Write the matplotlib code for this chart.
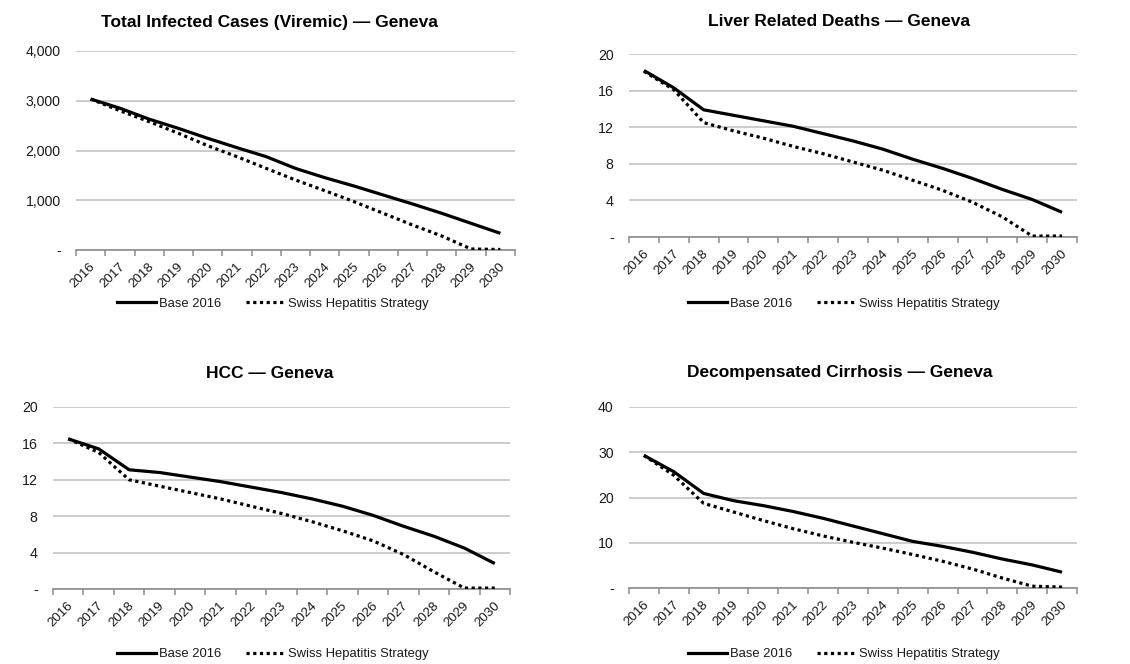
import matplotlib
matplotlib.use("Agg")
import matplotlib.pyplot as plt
from matplotlib.ticker import FuncFormatter, FixedLocator
from matplotlib.lines import Line2D
from matplotlib.transforms import ScaledTranslation
import numpy as np

plt.rcParams['font.family'] = ['Liberation Sans', 'DejaVu Sans']

years = [str(y) for y in range(2016, 2031)]
series_names = ["Base 2016", "Swiss Hepatitis Strategy"]

viremic_base = [3035, 2850, 2630, 2445, 2245, 2057, 1876, 1640, 1454, 1286, 1105, 925, 737, 536, 335]
viremic_swiss = [3035, 2800, 2580, 2345, 2097, 1876, 1640, 1407, 1193, 972, 737, 502, 281, 20, 10]

deaths_base = [18.2, 16.3, 13.9, 13.3, 12.7, 12.1, 11.3, 10.5, 9.6, 8.5, 7.5, 6.4, 5.2, 4.1, 2.7]
deaths_swiss = [18.1, 16.1, 12.5, 11.6, 10.8, 9.9, 9.1, 8.2, 7.3, 6.2, 5.1, 3.8, 2.2, 0.1, 0.1]

hcc_base = [16.5, 15.4, 13.1, 12.8, 12.3, 11.8, 11.2, 10.6, 9.9, 9.1, 8.1, 6.9, 5.8, 4.5, 2.8]
hcc_swiss = [16.5, 15.0, 12.0, 11.3, 10.6, 9.9, 9.1, 8.3, 7.4, 6.4, 5.3, 3.8, 1.9, 0.1, 0.1]

decomp_base = [29.3, 25.7, 20.9, 19.3, 18.2, 16.9, 15.4, 13.7, 12.0, 10.3, 9.2, 7.9, 6.4, 5.1, 3.5]
decomp_swiss = [29.3, 24.9, 18.7, 16.8, 14.9, 13.1, 11.5, 10.1, 8.8, 7.4, 5.9, 4.2, 2.2, 0.4, 0.2]

titles = ["Total Infected Cases (Viremic) \u2014 Geneva",
          "Liver Related Deaths \u2014 Geneva",
          "HCC \u2014 Geneva",
          "Decompensated Cirrhosis \u2014 Geneva"]
y_ticks = [[0, 1000, 2000, 3000, 4000],
           [0, 4, 8, 12, 16, 20],
           [0, 4, 8, 12, 16, 20],
           [0, 10, 20, 30, 40]]
data = [(viremic_base, viremic_swiss), (deaths_base, deaths_swiss),
        (hcc_base, hcc_swiss), (decomp_base, decomp_swiss)]

W, H = 1130, 664
fig = plt.figure(figsize=(W / 100, H / 100), dpi=100)

# panel boxes in pixels: left, right, top, bottom
boxes = [(76, 515, 51, 250), (629, 1077, 54, 237),
         (53, 510, 407, 589), (629, 1077, 407, 588)]
title_pos = [(269, 22), (839, 22), (270, 373), (840, 373)]
legend_pos = [(273, 304), (844, 304), (273, 654), (844, 654)]

grid_col = "#bfbfbf"
axis_col = "#8c8c8c"
text_col = "#1a1a1a"


def fmt(v, pos):
    if v == 0:
        return "-"
    return f"{v:,.0f}"


shift = ScaledTranslation(3 / 100, 0, fig.dpi_scale_trans)

for i in range(4):
    l, r, t, b = boxes[i]
    ax = fig.add_axes([l / W, 1 - b / H, (r - l) / W, (b - t) / H])
    x = np.arange(len(years))
    base, swiss = data[i]
    ax.plot(x, base, color="black", lw=2.3, solid_capstyle="butt", zorder=3)
    ax.plot(x, swiss, color="black", lw=2.3, linestyle=(0, (1, 1.1)),
            dash_capstyle="butt", zorder=3)
    ax.set_xlim(-0.5, len(years) - 0.5)
    ax.set_ylim(y_ticks[i][0], y_ticks[i][-1])
    ax.set_yticks(y_ticks[i])
    ax.yaxis.set_major_formatter(FuncFormatter(fmt))
    ax.tick_params(axis="y", length=0, pad=11, labelsize=10.2, labelcolor=text_col)
    ax.grid(axis="y", color=grid_col, lw=1.1)
    ax.set_axisbelow(True)
    for s in ["top", "right", "left"]:
        ax.spines[s].set_visible(False)
    ax.spines["bottom"].set_color(axis_col)
    ax.spines["bottom"].set_linewidth(1.2)
    ax.set_xticks(x)
    ax.set_xticklabels(years, rotation=45, ha="right", va="center",
                       rotation_mode="anchor", fontsize=9.6, color=text_col)
    ax.tick_params(axis="x", which="major", length=0, pad=10.5)
    for lab in ax.get_xticklabels():
        lab.set_transform(lab.get_transform() + shift)
    ax.xaxis.set_minor_locator(FixedLocator(np.arange(-0.5, len(years), 1.0)))
    ax.tick_params(axis="x", which="minor", length=4, color=axis_col, width=1.1,
                   direction="out")

    tx, ty = title_pos[i]
    fig.text(tx / W, 1 - ty / H, titles[i], ha="center", va="center",
             fontsize=12.5, fontweight="bold", color="black")

    handles = [Line2D([], [], color="black", lw=2.3),
               Line2D([], [], color="black", lw=2.3, linestyle=(0, (1, 1.1)))]
    lx, ly = legend_pos[i]
    fig.legend(handles, series_names, loc="center",
               bbox_to_anchor=(lx / W, 1 - ly / H), ncol=2, frameon=False,
               fontsize=9.4, handlelength=3.0, handletextpad=0.25,
               columnspacing=1.85, labelcolor=text_col)

fig.savefig("out.png", dpi=100, facecolor="white")
